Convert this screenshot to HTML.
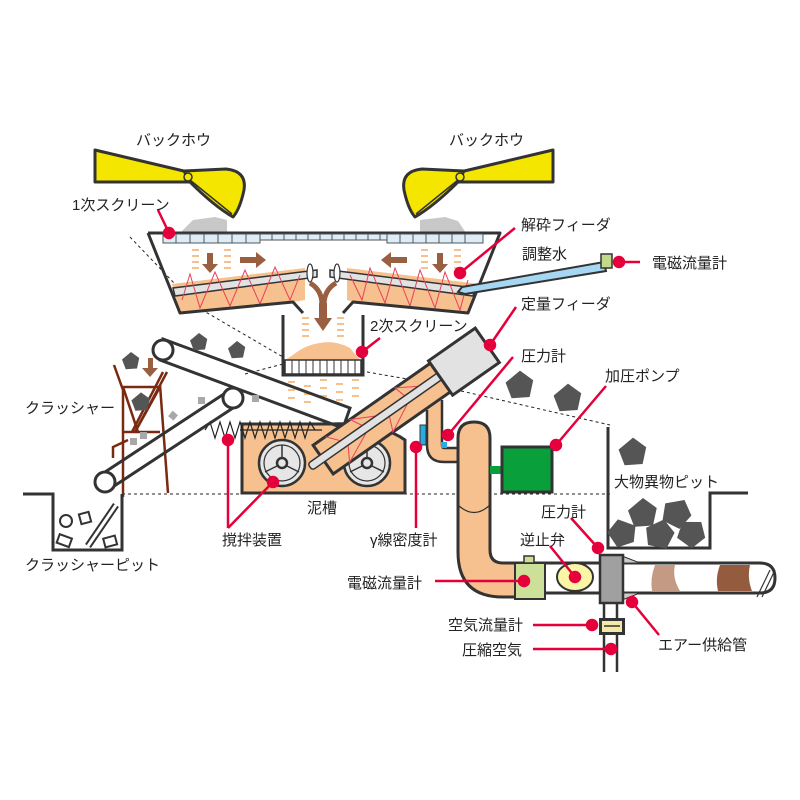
<!DOCTYPE html>
<html><head><meta charset="utf-8"><style>
html,body{margin:0;padding:0;background:#fff}
svg{display:block}
text{font-family:"Liberation Sans","Noto Sans CJK JP",sans-serif;font-size:15px;fill:#222}
</style></head><body>
<svg width="800" height="800" viewBox="0 0 800 800" xmlns="http://www.w3.org/2000/svg">
<defs>
<g id="rock"><polygon points="0,-12 11,-4 8,10 -7,11 -12,-2" fill="#555"/></g>
</defs>

<g stroke="#222" stroke-width="1" stroke-dasharray="3,3" fill="none">
<polyline points="130,237 197,307 283,357"/>
<polyline points="367,372 413,380 610,425"/>
<line x1="245" y1="374" x2="283" y2="364"/>
<line x1="122" y1="494" x2="610" y2="494"/>
</g>

<g stroke="#333" stroke-width="3" stroke-linejoin="round">
<polygon points="95,150 188,172 190,182 95,182" fill="#f5e600"/>
<path d="M184,171 L226,169 Q247,171 244,190 Q240,209 233,217 Q214,206 190,182 Z" fill="#f5e600"/>
<line x1="190" y1="180" x2="232" y2="214" stroke-width="1.5"/>
<circle cx="188" cy="177" r="4" fill="#f5e600" stroke-width="1.5"/>
<polygon points="553,150 460,172 458,182 553,182" fill="#f5e600"/>
<path d="M464,171 L422,169 Q401,171 404,190 Q408,209 415,217 Q434,206 458,182 Z" fill="#f5e600"/>
<line x1="458" y1="180" x2="416" y2="214" stroke-width="1.5"/>
<circle cx="460" cy="177" r="4" fill="#f5e600" stroke-width="1.5"/>
</g>
<polygon points="180,233 193,220 215,217 227,220 227,233" fill="#c8c8c8"/>
<polygon points="420,233 420,220 445,217 458,221 466,233" fill="#c8c8c8"/>

<polygon points="172,284 305,268 305,300 293,302 180,313" fill="#f6c08f"/>
<polygon points="347,268 480,284 468,313 353,302 347,300" fill="#f6c08f"/>
<polygon points="173,288 317,270 317,277 175,296" fill="#e2e2e2" stroke="#333" stroke-width="1.5"/>
<polygon points="330,270 475,288 473,296 330,277" fill="#e2e2e2" stroke="#333" stroke-width="1.5"/>
<ellipse cx="310" cy="273" rx="3" ry="9" fill="#fff" stroke="#333" stroke-width="1.2"/>
<ellipse cx="337" cy="273" rx="3" ry="9" fill="#fff" stroke="#333" stroke-width="1.2"/>
<polyline points="182,300 190,274 200,308 215,272 230,306 245,270 260,304 275,267 290,300 300,275" fill="none" stroke="#e8405a" stroke-width="1"/>
<polyline points="350,275 362,300 370,268 385,303 395,268 410,306 420,270 435,308 445,272 460,310 468,280" fill="none" stroke="#e8405a" stroke-width="1"/>
<polyline points="148,233 500,233 468,313 353,302 343,313" fill="none" stroke="#333" stroke-width="3" stroke-linejoin="round"/>
<polyline points="148,233 180,313 293,302 303,313" fill="none" stroke="#333" stroke-width="3" stroke-linejoin="round"/>
<g stroke="#555" stroke-width="1" fill="#dcedf7">
<rect x="163" y="234" width="97" height="9"/>
<rect x="260" y="234" width="127" height="6"/>
<rect x="387" y="234" width="96" height="9"/>
</g>
<g stroke="#555" stroke-width="1">
<path d="M176,234v9M190,234v9M204,234v9M218,234v9M232,234v9M246,234v9M272,234v6M284,234v6M296,234v6M308,234v6M320,234v6M332,234v6M344,234v6M356,234v6M368,234v6M380,234v6M400,234v9M413,234v9M426,234v9M439,234v9M452,234v9M465,234v9"/>
</g>
<g stroke="#f6c08f" stroke-width="2">
<path d="M192,250h7M192,256h7M192,262h7M192,268h7M224,250h7M224,256h7M224,262h7M224,268h7M421,250h7M421,256h7M421,262h7M421,268h7M454,250h7M454,256h7M454,262h7M454,268h7"/>
<path d="M302,318h7M302,324h7M302,330h7M302,336h7M337,318h7M337,324h7M337,330h7M337,336h7"/>
<path d="M288,382h7M288,390h7M288,398h7M304,386h7M304,394h7M304,402h7M320,380h7M320,388h7M320,396h7M336,384h7M336,392h7M336,400h7M352,380h7M352,388h7M352,396h7"/>
</g>
<g fill="#9a5e40">
<polygon points="207,253 213,253 213,264 218,264 210,273 202,264 207,264"/>
<polygon points="437,253 443,253 443,264 448,264 440,273 432,264 437,264"/>
<polygon points="240,257 256,257 256,252 266,260 256,268 256,263 240,263"/>
<polygon points="407,257 391,257 391,252 381,260 391,268 391,263 407,263"/>
<polygon points="148,358 153,358 153,368 158,368 150,377 142,368 148,368"/>
</g>
<path d="M310,283 Q322,290 322,305 M336,283 Q324,290 324,305" fill="none" stroke="#9a5e40" stroke-width="5"/>
<polygon points="319,303 327,303 327,318 332,318 323,331 314,318 319,318" fill="#9a5e40"/>

<path d="M293,355 Q305,345 320,343 Q335,340 350,348 L360,360 L285,360 Z" fill="#f6c08f"/>
<rect x="285" y="360" width="76" height="14" fill="#fff" stroke="#333" stroke-width="1.5"/>
<path d="M292,360v14M299,360v14M306,360v14M313,360v14M320,360v14M327,360v14M334,360v14M341,360v14M348,360v14M355,360v14" stroke="#333" stroke-width="1"/>
<polyline points="283,315 283,375 363,375 363,315" fill="none" stroke="#333" stroke-width="3"/>

<path d="M242,424 L330,424 Q380,422 405,440 L405,493 L242,493 Z" fill="#f6c08f" stroke="#333" stroke-width="3"/>
<polyline points="205,430 210,422 215,438 220,422 225,438 230,422 235,438 240,422 245,438 250,422 255,438 260,422 265,438 270,422 275,438 280,422 285,438 290,422 295,438 300,422 305,438 310,422 315,430" fill="none" stroke="#222" stroke-width="1.2"/>
<line x1="240" y1="430" x2="322" y2="430" stroke="#222" stroke-width="1.2"/>
<g stroke="#333" stroke-width="2.5" fill="#e6e6e6">
<circle cx="282" cy="463" r="23"/><circle cx="282" cy="463" r="18" stroke-width="1.2"/><circle cx="282" cy="463" r="5"/>
<path d="M282,458v-13M277,466l-12,6M287,466l12,6" stroke-width="1.5"/>
<circle cx="367" cy="463" r="23"/><circle cx="367" cy="463" r="18" stroke-width="1.2"/><circle cx="367" cy="463" r="5"/>
<path d="M367,458v-13M362,466l-12,6M372,466l12,6" stroke-width="1.5"/>
</g>

<g stroke="#7a2a10" stroke-width="2.5" fill="none">
<polyline points="114,365 123,390 123,497"/>
<polyline points="160,385 168,493"/>
<line x1="123" y1="387" x2="160" y2="387"/>
<line x1="123" y1="432" x2="160" y2="432"/>
<line x1="123" y1="387" x2="138" y2="432"/>
<line x1="160" y1="387" x2="135" y2="432"/>
<line x1="167" y1="372" x2="135" y2="432"/>
<line x1="163" y1="372" x2="132" y2="432"/>
<polyline points="113,458 113,447 128,440"/>
</g>
<g stroke="#333" stroke-width="3" fill="#fff">
<path d="M163,339 L350,408 L343,428 L160,360 Z" fill="none"/>
<circle cx="163" cy="350" r="10"/>
<path d="M233,388 L105,472 M233,408 L105,492" fill="none"/>
<circle cx="233" cy="398" r="10"/>
<circle cx="105" cy="482" r="10"/>
</g>
<use href="#rock" transform="translate(199,342) scale(0.75)"/>
<use href="#rock" transform="translate(237,350) scale(0.75)"/>
<use href="#rock" transform="translate(131,361) scale(0.75)"/>
<use href="#rock" transform="translate(141,402) scale(0.8)"/>
<g fill="#a8a8a8">
<rect x="198" y="397" width="7" height="7"/><rect x="170" y="412" width="7" height="7" transform="rotate(40 173 415)"/>
<rect x="140" y="432" width="7" height="7"/><rect x="130" y="438" width="7" height="7"/><rect x="252" y="395" width="7" height="7"/>
</g>

<polyline points="23,494 53,494 53,550 122,550 122,494" fill="none" stroke="#333" stroke-width="3"/>
<circle cx="66" cy="521" r="6" fill="#fff" stroke="#333" stroke-width="2"/>
<rect x="80" y="513" width="10" height="10" fill="#fff" stroke="#333" stroke-width="2" transform="rotate(-15 85 518)"/>
<rect x="58" y="536" width="13" height="9" fill="#fff" stroke="#333" stroke-width="2" transform="rotate(20 64 540)"/>
<rect x="104" y="537" width="12" height="9" fill="#fff" stroke="#333" stroke-width="2" transform="rotate(-15 110 541)"/>
<line x1="88" y1="546" x2="116" y2="505" stroke="#333" stroke-width="7"/>
<line x1="88" y1="546" x2="116" y2="505" stroke="#fff" stroke-width="3"/>

<g transform="translate(310,467) rotate(-35)">
<rect x="15" y="-16" width="145" height="35" fill="#f6c08f" stroke="#333" stroke-width="3"/>
<polyline points="30,-16 45,2 35,19 70,2 60,-16 95,2 88,19 120,2 115,-16 145,2" fill="none" stroke="#e8405a" stroke-width="1"/>
<rect x="0" y="-4" width="165" height="8" rx="3" fill="#e2e2e2" stroke="#333" stroke-width="1.5"/>
<rect x="158" y="-19" width="57" height="42" fill="#e2e2e2" stroke="#333" stroke-width="3"/>
</g>

<polygon points="462,287 604,262 606,271 465,294 458,292" fill="#a6d7f2" stroke="#333" stroke-width="2"/>
<rect x="601" y="254" width="11" height="14" fill="#c2d98c" stroke="#333" stroke-width="1.5"/>

<path d="M427,410 L427,445 Q427,462 444,462 L460,462 L460,448 L444,448 Q442,448 442,445 L442,400" fill="#f6c08f" stroke="#333" stroke-width="2.5"/>
<rect x="420" y="425" width="6" height="20" fill="#29abe2" stroke="#333" stroke-width="1"/>
<rect x="441" y="442" width="6" height="6" fill="#29abe2"/>
<path d="M458,438 Q458,422 474,422 Q490,422 490,438 L490,550 Q490,563 503,563 L516,563 L516,597 L503,597 Q458,597 458,552 Z" fill="#f6c08f" stroke="#333" stroke-width="3"/>
<path d="M458,505 Q474,520 490,505" fill="none" stroke="#333" stroke-width="1.2"/>
<rect x="490" y="466" width="14" height="8" fill="#09a03c"/>
<rect x="502" y="447" width="50" height="45" fill="#09a03c" stroke="#333" stroke-width="3"/>
<path d="M516,563 L760,563 Q775,563 775,578 Q775,593 760,593 L516,593" fill="#fff" stroke="#333" stroke-width="3"/>
<path d="M655,565 Q650,578 652,591 L680,591 Q672,578 675,565 Z" fill="#c49a85"/>
<path d="M720,565 Q715,578 718,591 L752,591 Q747,578 750,565 Z" fill="#955b3f"/>
<path d="M757,597 L770,570 M762,597 L775,570" stroke="#333" stroke-width="1.2"/>
<rect x="515" y="563" width="30" height="36" fill="#cde09a" stroke="#333" stroke-width="2"/>
<rect x="524" y="556" width="10" height="7" fill="#cde09a" stroke="#333" stroke-width="1.5"/>
<ellipse cx="575" cy="577" rx="18" ry="14" fill="#fbf5a6" stroke="#333" stroke-width="2"/>
<polygon points="622,556 640,563 622,563" fill="#ccc" stroke="#333" stroke-width="1"/>
<polygon points="622,600 640,593 622,593" fill="#ccc" stroke="#333" stroke-width="1"/>
<rect x="600" y="555" width="23" height="48" fill="#a0a0a0" stroke="#333" stroke-width="2.5"/>
<path d="M604,603 V672 M617,603 V672" stroke="#333" stroke-width="2.5"/>
<rect x="599" y="618" width="26" height="17" fill="#333"/>
<rect x="602" y="621" width="20" height="11" fill="#f5e9a8"/>
<path d="M604,626h16" stroke="#333" stroke-width="1.5"/>

<polyline points="608,427 608,548 710,548 710,493 748,493" fill="none" stroke="#333" stroke-width="3"/>
<use href="#rock" transform="translate(520,385) scale(1.2)"/>
<use href="#rock" transform="translate(568,398) scale(1.2)"/>
<use href="#rock" transform="translate(633,452) scale(1.2)"/>
<use href="#rock" transform="translate(643,513) scale(1.25)"/>
<use href="#rock" transform="translate(677,513) scale(1.25) rotate(30)"/>
<use href="#rock" transform="translate(623,533) scale(1.2) rotate(60)"/>
<use href="#rock" transform="translate(660,534) scale(1.25) rotate(15)"/>
<use href="#rock" transform="translate(692,533) scale(1.2) rotate(40)"/>

<g stroke="#e5003c" stroke-width="2.5" fill="#e5003c">
<line x1="158" y1="210" x2="169" y2="233"/><circle cx="169" cy="233" r="5"/>
<line x1="515" y1="228" x2="460" y2="273"/><circle cx="460" cy="273" r="5"/>
<line x1="640" y1="262" x2="619" y2="262"/><circle cx="619" cy="262" r="5"/>
<line x1="516" y1="307" x2="490" y2="345"/><circle cx="490" cy="345" r="5"/>
<line x1="380" y1="338" x2="362" y2="352"/><circle cx="362" cy="352" r="5"/>
<line x1="513" y1="357" x2="448" y2="435"/><circle cx="448" cy="435" r="5"/>
<line x1="606" y1="386" x2="556" y2="445"/><circle cx="556" cy="445" r="5"/>
<line x1="571" y1="518" x2="598" y2="548"/><circle cx="598" cy="548" r="5"/>
<polyline points="228,528 228,440" fill="none"/><circle cx="228" cy="440" r="5"/>
<line x1="228" y1="528" x2="273" y2="482"/><circle cx="273" cy="482" r="5"/>
<line x1="416" y1="528" x2="416" y2="447"/><circle cx="416" cy="447" r="5"/>
<line x1="550" y1="546" x2="575" y2="577"/><circle cx="575" cy="577" r="5"/>
<line x1="435" y1="581" x2="524" y2="581"/><circle cx="524" cy="581" r="5"/>
<line x1="533" y1="625" x2="592" y2="625"/><circle cx="592" cy="625" r="5"/>
<line x1="533" y1="649" x2="611" y2="649"/><circle cx="611" cy="649" r="5"/>
<line x1="659" y1="635" x2="632" y2="602"/><circle cx="632" cy="602" r="5"/>
</g>

<text x="136" y="145">バックホウ</text>
<text x="449" y="145">バックホウ</text>
<text x="72" y="210">1次スクリーン</text>
<text x="521" y="230">解砕フィーダ</text>
<text x="522" y="259">調整水</text>
<text x="652" y="268">電磁流量計</text>
<text x="521" y="309">定量フィーダ</text>
<text x="370" y="331">2次スクリーン</text>
<text x="521" y="361">圧力計</text>
<text x="605" y="381">加圧ポンプ</text>
<text x="25" y="413">クラッシャー</text>
<text x="614" y="487">大物異物ピット</text>
<text x="307" y="513">泥槽</text>
<text x="541" y="517">圧力計</text>
<text x="222" y="545">撹拌装置</text>
<text x="520" y="545">逆止弁</text>
<text x="370" y="545">γ線密度計</text>
<text x="25" y="570">クラッシャーピット</text>
<text x="347" y="588">電磁流量計</text>
<text x="448" y="630">空気流量計</text>
<text x="462" y="655">圧縮空気</text>
<text x="658" y="650">エアー供給管</text>
</svg>
</body></html>
